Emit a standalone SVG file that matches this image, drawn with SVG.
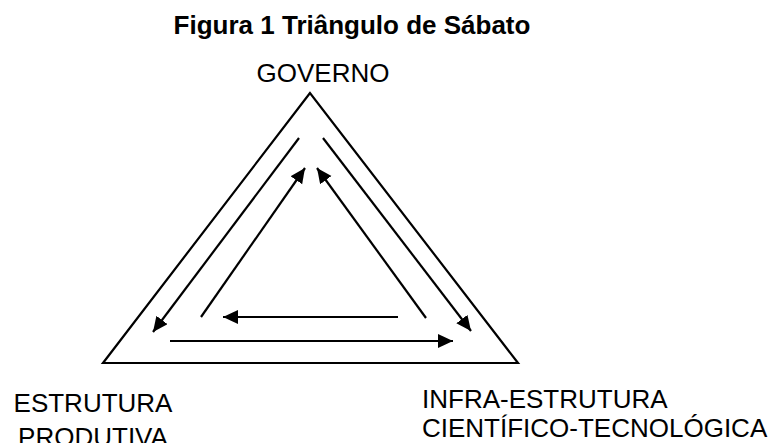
<svg xmlns="http://www.w3.org/2000/svg" width="773" height="443" viewBox="0 0 773 443">
<style>
text{font-family:"Liberation Sans",Arial,sans-serif;font-size:26px;fill:#000}
.title{font-weight:bold}
.ln{stroke:#000;stroke-width:2.2;fill:none}
</style>
<defs>
<marker id="ah" markerUnits="userSpaceOnUse" markerWidth="16" markerHeight="15" refX="15" refY="7" orient="auto">
<path d="M0,0 L15,7 L0,14 z" fill="#000"/>
</marker>
</defs>
<rect width="773" height="443" fill="#fff"/>
<text class="title" x="352" y="34" text-anchor="middle">Figura 1 Triângulo de Sábato</text>
<g id="governo"><text x="323" y="82" text-anchor="middle">GOVERNO</text></g>
<g id="estrutura"><text x="93" y="412" text-anchor="middle">ESTRUTURA</text><text x="93" y="446" text-anchor="middle">PRODUTIVA</text></g>
<g id="infra"><text x="422" y="408">INFRA-ESTRUTURA</text><text x="422" y="437">CIENTÍFICO-TECNOLÓGICA</text></g>
<g id="triangle"><polygon class="ln" points="310,93 103,363 518,363"/></g>
<g id="connectors">
<line class="ln" x1="299" y1="138" x2="153" y2="332" marker-end="url(#ah)"/>
<line class="ln" x1="323" y1="138" x2="471" y2="331" marker-end="url(#ah)"/>
<line class="ln" x1="201" y1="317" x2="305" y2="168" marker-end="url(#ah)"/>
<line class="ln" x1="426" y1="318" x2="317" y2="168" marker-end="url(#ah)"/>
<line class="ln" x1="398" y1="317" x2="223" y2="317" marker-end="url(#ah)"/>
<line class="ln" x1="170" y1="341" x2="453" y2="341" marker-end="url(#ah)"/>
</g>
</svg>
